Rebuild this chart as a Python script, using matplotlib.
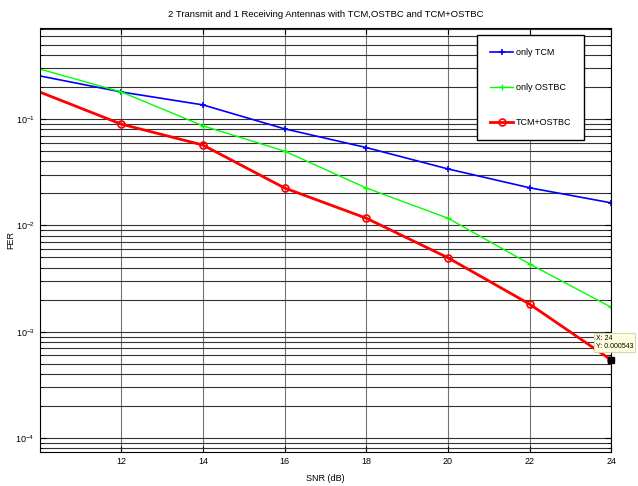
import numpy as np
import matplotlib.pyplot as plt
from matplotlib.ticker import LogLocator, NullFormatter

plt.rcParams['font.family'] = ['Liberation Sans', 'DejaVu Sans']

snr = [10, 12, 14, 16, 18, 20, 22, 24]
fer_tcm = [0.255, 0.18, 0.136, 0.081, 0.054, 0.034, 0.0226, 0.0163]
fer_ostbc = [0.296, 0.18, 0.0865, 0.050, 0.0225, 0.0117, 0.00434, 0.0017]
fer_both = [0.18, 0.0897, 0.057, 0.0225, 0.0117, 0.00497, 0.00182, 0.000543]
xticks = [12, 14, 16, 18, 20, 22, 24]

fig = plt.figure(figsize=(6.38, 4.86), dpi=100)
ax = fig.add_axes([0.062, 0.070, 0.896, 0.872])

mk = slice(1, None)
ax.semilogy(snr, fer_tcm, color='#0000ff', lw=1.2, marker='+', ms=5, mew=1.2,
            markevery=mk, label='only TCM')
ax.semilogy(snr, fer_ostbc, color='#00ff00', lw=1.0, marker='+', ms=5, mew=1.0,
            markevery=mk, label='only OSTBC')
ax.semilogy(snr, fer_both, color='#ff0000', lw=2.0, marker='o', ms=5, mew=1.2,
            mfc='none', markevery=mk, label='TCM+OSTBC')

ax.set_xlim(10, 24)
ax.set_ylim(7.4e-5, 0.716)
ax.set_xticks(xticks)
ax.yaxis.set_major_locator(LogLocator(base=10))
ax.yaxis.set_minor_locator(LogLocator(base=10, subs=np.arange(2, 10)))
ax.yaxis.set_minor_formatter(NullFormatter())
ax.tick_params(which='both', direction='in', top=True, right=True, labelsize=6.5)
ax.tick_params(which='major', length=4)
ax.tick_params(which='minor', length=2)

ax.grid(True, axis='x', which='major', color='0.45', lw=0.8, ls='-')
ax.grid(True, axis='y', which='both', color='0.2', lw=0.8, ls='-')
for s in ax.spines.values():
    s.set_linewidth(0.8)

ax.set_title('2 Transmit and 1 Receiving Antennas with TCM,OSTBC and TCM+OSTBC',
             fontsize=6.8, pad=8)
ax.set_xlabel('SNR (dB)', fontsize=6.5, labelpad=6)
ax.set_ylabel('FER', fontsize=6.5)
ax.yaxis.set_label_coords(-0.043, 0.5)

leg = ax.legend(loc='upper right', bbox_to_anchor=(0.953, 0.983), fontsize=6.5,
                fancybox=False, framealpha=1, edgecolor='black',
                labelspacing=2.9, handlelength=2.6, borderpad=1.4,
                handletextpad=0.3, borderaxespad=0)
leg.get_frame().set_linewidth(1.0)

# data tip at the last TCM+OSTBC point
ax.plot([snr[-1]], [fer_both[-1]], marker='s', color='black', ms=5, clip_on=False, zorder=6)
ax.annotate('X: 24\nY: 0.000543', xy=(snr[-1], fer_both[-1]),
            xytext=(16, 7), textcoords='offset points', fontsize=5,
            ha='right', va='bottom', multialignment='left',
            annotation_clip=False, zorder=7,
            bbox=dict(boxstyle='square,pad=0.25', fc='#ffffe0', ec='#d8d8b0', lw=0.8))

fig.savefig('out.png', dpi=100)
